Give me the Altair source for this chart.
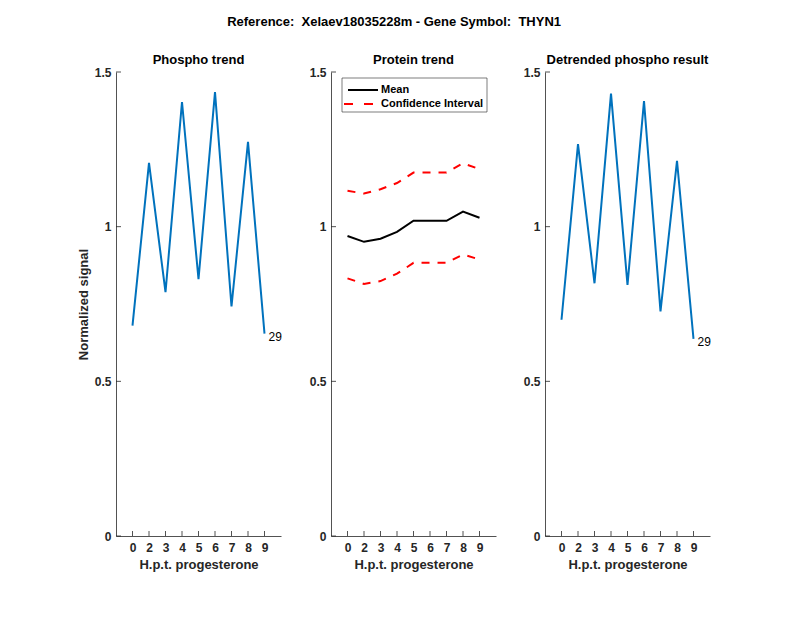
import altair as alt
import pandas as pd

hours = ["0", "2", "3", "4", "5", "6", "7", "8", "9"]
phospho = [0.680, 1.206, 0.788, 1.403, 0.830, 1.435, 0.742, 1.274, 0.654]
detrended = [0.699, 1.267, 0.817, 1.430, 0.812, 1.406, 0.726, 1.213, 0.637]
prot_mean = [0.970, 0.951, 0.961, 0.983, 1.019, 1.019, 1.019, 1.049, 1.029]
prot_upper = [1.116, 1.107, 1.121, 1.141, 1.175, 1.175, 1.175, 1.205, 1.186]
prot_lower = [0.833, 0.815, 0.824, 0.848, 0.883, 0.883, 0.883, 0.910, 0.894]
end_label = "29"
y_ticks = [0, 0.5, 1, 1.5]

W, H = 165, 464
FONT = "Liberation Sans"
AXC = "#262626"
BLUE = "#0072BD"
DASH = [8, 8]

xscale = alt.Scale(type="point", padding=1)
yscale = alt.Scale(domain=[0, 1.5], nice=False)


def xaxis():
    return alt.Axis(title="H.p.t. progesterone", labelAngle=0, ticks=False,
                    labelPadding=6, titlePadding=5)


def yaxis(title):
    return alt.Axis(title=title, values=y_ticks, format=".1~f", ticks=False,
                    grid=False, labelPadding=5, titlePadding=4)


def X(ax):
    return alt.X("hour:N", sort=hours, scale=xscale, axis=ax)


def Y(field, ax):
    return alt.Y(field, scale=yscale, axis=ax)


def decorations(ytitle):
    ytk = alt.Chart(pd.DataFrame({"value": y_ticks})).mark_rule(color=AXC, strokeWidth=0.8).encode(
        y=Y("value:Q", yaxis(ytitle)), x=alt.value(0), x2=alt.value(5))
    xtk = alt.Chart(pd.DataFrame({"hour": hours})).mark_rule(color=AXC, strokeWidth=0.8).encode(
        x=X(xaxis()), y=alt.value(H), y2=alt.value(H - 5))
    return [ytk, xtk]


def phospho_panel(values, title, ytitle):
    df = pd.DataFrame({"hour": hours, "value": values})
    line = alt.Chart(df).mark_line(color=BLUE, strokeWidth=2).encode(
        x=X(xaxis()), y=Y("value:Q", yaxis(ytitle)))
    lab = alt.Chart(df.tail(1).assign(t=end_label)).mark_text(
        align="left", baseline="middle", dx=4, dy=3, font=FONT, fontSize=12, color="#000").encode(
        x=X(xaxis()), y=Y("value:Q", yaxis(ytitle)), text="t:N")
    return alt.layer(line, lab, *decorations(ytitle)).properties(
        width=W, height=H, title=alt.TitleParams(title, offset=-1))


def protein_panel():
    df = pd.DataFrame({
        "hour": hours * 3,
        "value": prot_mean + prot_upper + prot_lower,
        "series": ["Mean"] * 9 + ["Upper"] * 9 + ["Lower"] * 9,
    })
    mean = alt.Chart(df[df.series == "Mean"]).mark_line(color="black", strokeWidth=2).encode(
        x=X(xaxis()), y=Y("value:Q", yaxis(None)))
    ci = alt.Chart(df[df.series != "Mean"]).mark_line(
        color="#FF0000", strokeWidth=2, strokeDash=DASH).encode(
        x=X(xaxis()), y=Y("value:Q", yaxis(None)), detail="series:N")
    box = alt.Chart(pd.DataFrame({"a": [0]})).mark_rect(
        fill="white", stroke="#262626", strokeWidth=0.6).encode(
        x=alt.value(11), x2=alt.value(156), y=alt.value(6), y2=alt.value(40))
    leg = pd.DataFrame({"name": ["Mean", "Confidence Interval"]})
    l1 = alt.Chart(leg.head(1)).mark_rule(color="black", strokeWidth=2).encode(
        x=alt.value(17), x2=alt.value(47), y=alt.value(18))
    l2 = alt.Chart(leg.tail(1)).mark_rule(color="#FF0000", strokeWidth=2, strokeDash=[9, 11]).encode(
        x=alt.value(13), x2=alt.value(42), y=alt.value(32))
    t1 = alt.Chart(leg.head(1)).mark_text(align="left", baseline="middle", font=FONT,
                                          fontSize=11, fontWeight="bold", color="black").encode(
        x=alt.value(50), y=alt.value(18), text="name:N")
    t2 = alt.Chart(leg.tail(1)).mark_text(align="left", baseline="middle", font=FONT,
                                          fontSize=11, fontWeight="bold", color="black").encode(
        x=alt.value(50), y=alt.value(32), text="name:N")
    return alt.layer(mean, ci, *decorations(None), box, l1, l2, t1, t2).properties(
        width=W, height=H, title=alt.TitleParams("Protein trend", offset=-1))


p1 = phospho_panel(phospho, "Phospho trend", "Normalized signal")
p2 = protein_panel()
p3 = phospho_panel(detrended, "Detrended phospho result", None)

chart = alt.hconcat(p1, p2, p3, spacing=27).properties(
    title=alt.TitleParams("Reference:\u00a0 Xelaev18035228m - Gene Symbol:\u00a0 THYN1",
                          fontSize=13, font=FONT, fontWeight="bold", color="black",
                          anchor="middle", offset=25),
    padding={"left": 69, "top": 8, "right": 5, "bottom": 5},
).configure_view(stroke=None).configure_axis(
    domainColor=AXC, domainWidth=0.8, labelFont=FONT, labelFontSize=12, labelFontWeight="bold",
    labelColor=AXC, titleFont=FONT, titleFontSize=13, titleFontWeight="bold", titleColor=AXC,
).configure_title(font=FONT, fontSize=13, fontWeight="bold", color="black")

chart.save("out.html", embed_options={"renderer": "svg", "actions": False})
